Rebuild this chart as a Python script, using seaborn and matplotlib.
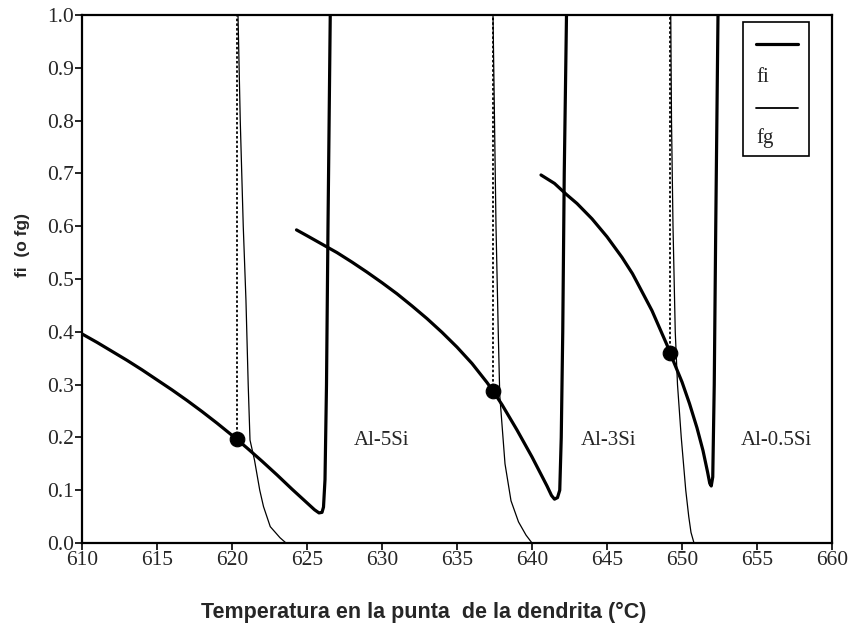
import matplotlib
matplotlib.use("Agg")
import matplotlib.pyplot as plt
from matplotlib import font_manager
from matplotlib.patches import Rectangle
from matplotlib.lines import Line2D
import pandas as pd
import seaborn as sns

# ---- data -------------------------------------------------------------
# fi curves (thick): temperature (°C) and fraction
fi_5si_t = [610, 611, 612, 613, 614, 615, 616, 617, 618, 619, 620, 620.3,
            621, 622, 623, 624, 625, 625.5, 625.8, 626.0, 626.1, 626.2,
            626.3, 626.4, 626.55]
fi_5si_f = [0.396, 0.380, 0.363, 0.346, 0.328, 0.309, 0.290, 0.270, 0.249,
            0.227, 0.204, 0.197, 0.180, 0.155, 0.129, 0.102, 0.076, 0.063,
            0.057, 0.058, 0.068, 0.120, 0.300, 0.600, 1.0]

fi_3si_t = [624.3, 625, 626, 627, 628, 629, 630, 631, 632, 633, 634, 635,
            636, 637, 637.4, 638, 639, 640, 641, 641.3, 641.5, 641.7,
            641.85, 641.95, 642.05, 642.15, 642.3]
fi_3si_f = [0.593, 0.582, 0.566, 0.550, 0.532, 0.513, 0.493, 0.472, 0.449,
            0.425, 0.399, 0.371, 0.340, 0.304, 0.288, 0.262, 0.214, 0.163,
            0.108, 0.090, 0.083, 0.086, 0.100, 0.200, 0.400, 0.700, 1.0]

fi_05si_t = [640.6, 641.5, 642.3, 643, 644, 645, 646, 646.7, 647, 648, 649,
             649.2, 650, 650.5, 651, 651.4, 651.7, 651.85, 651.95, 652.05,
             652.15, 652.25, 652.4]
fi_05si_f = [0.697, 0.681, 0.660, 0.643, 0.614, 0.580, 0.541, 0.510, 0.494,
             0.440, 0.375, 0.360, 0.305, 0.264, 0.218, 0.175, 0.135, 0.113,
             0.108, 0.125, 0.300, 0.600, 1.0]

# fg curves (thin)
fg_5si_t = [620.4, 620.55, 620.75, 620.93, 621.08, 621.2, 621.5, 621.85,
            622.1, 622.55, 623.2, 623.6]
fg_5si_f = [1.0, 0.8, 0.6, 0.46, 0.30, 0.195, 0.157, 0.10, 0.069, 0.031,
            0.010, 0.0]

fg_3si_t = [637.4, 637.5, 637.6, 637.75, 637.85, 638.2, 638.6, 639.1,
            639.6, 640.0]
fg_3si_f = [1.0, 0.8, 0.6, 0.4, 0.28, 0.15, 0.08, 0.04, 0.015, 0.0]

fg_05si_t = [649.25, 649.3, 649.4, 649.55, 649.7, 649.95, 650.25, 650.45,
             650.6, 650.8]
fg_05si_f = [1.0, 0.8, 0.6, 0.4, 0.3, 0.2, 0.1, 0.05, 0.02, 0.0]

# marked points where the dotted lines start
dot_t = [620.3, 637.4, 649.2]
dot_f = [0.197, 0.288, 0.360]

# alloy labels
alloy_names = ["Al-5Si", "Al-3Si", "Al-0.5Si"]
label_t = [630.0, 645.1, 656.3]
label_f = [0.195, 0.195, 0.195]

x_ticks = [610, 615, 620, 625, 630, 635, 640, 645, 650, 655, 660]
y_ticks = [0.0, 0.1, 0.2, 0.3, 0.4, 0.5, 0.6, 0.7, 0.8, 0.9, 1.0]

# ---- style ------------------------------------------------------------
sns.set_theme(style="ticks")
available = {f.name for f in font_manager.fontManager.ttflist}


def pick(*names):
    for n in names:
        if n in available:
            return n
    return "DejaVu Sans"


serif = pick("Liberation Serif", "DejaVu Serif")
narrow = pick("Liberation Sans Narrow", "DejaVu Sans Condensed", "Liberation Sans")
sans = pick("Liberation Sans", "DejaVu Sans")
plt.rcParams["font.family"] = [serif, "DejaVu Serif"]

fig = plt.figure(figsize=(8.49, 6.3), dpi=100)
ax = fig.add_axes([82 / 849, 87 / 630, 750 / 849, 528 / 630])

thick = dict(color="black", linewidth=2.3, sort=False, estimator=None, ax=ax,
             solid_joinstyle="round", solid_capstyle="round")
thin = dict(color="black", linewidth=0.9, sort=False, estimator=None, ax=ax,
            solid_joinstyle="round")

for t, f in [(fi_5si_t, fi_5si_f), (fi_3si_t, fi_3si_f), (fi_05si_t, fi_05si_f)]:
    sns.lineplot(data=pd.DataFrame({"T": t, "f": f}), x="T", y="f", **thick)
for t, f in [(fg_5si_t, fg_5si_f), (fg_3si_t, fg_3si_f), (fg_05si_t, fg_05si_f)]:
    sns.lineplot(data=pd.DataFrame({"T": t, "f": f}), x="T", y="f", **thin)

ax.vlines(dot_t, dot_f, [1.0] * len(dot_t), colors="black",
          linestyles=(0, (1.4, 1.2)), linewidth=1.3)
sns.scatterplot(x=dot_t, y=dot_f, color="black", s=110, edgecolor="black",
                zorder=5, ax=ax)

for name, t, f in zip(alloy_names, label_t, label_f):
    ax.text(t, f, name, ha="center", va="center", fontsize=15,
            family=[serif])

ax.set_xlim(610, 660)
ax.set_ylim(0, 1.0)
ax.set_xticks(x_ticks)
ax.set_yticks(y_ticks)
ax.set_xticklabels([str(v) for v in x_ticks], fontsize=15.5, family=[serif])
ax.set_yticklabels([f"{v:.1f}" for v in y_ticks], fontsize=15.5, family=[serif])
ax.tick_params(direction="out", length=5, width=1.2, pad=1, color="black")
for s in ax.spines.values():
    s.set_visible(True)
    s.set_linewidth(1.6)
    s.set_color("black")

ax.set_xlabel("")
ax.set_ylabel("")
fig.text(424 / 849, 1 - 612 / 630, "Temperatura en la punta  de la dendrita (°C)",
         ha="center", va="center", fontsize=15.5, fontweight="bold",
         family=[narrow, sans])
fig.text(22 / 849, 1 - 245 / 630, "fi  (o fg)", rotation=90, ha="center",
         va="center", fontsize=12.5, fontweight="bold", family=[sans])

# legend box drawn in axes coordinates
ax.add_patch(Rectangle((0.8813, 0.733), 0.088, 0.2537, transform=ax.transAxes,
                       fill=False, edgecolor="black", linewidth=1.2, zorder=6))
ax.add_line(Line2D([0.8987, 0.9547], [0.945, 0.945], transform=ax.transAxes,
                   color="black", linewidth=2.3, zorder=6))
ax.text(0.8987, 0.8807, "fi", transform=ax.transAxes, ha="left", va="center",
        fontsize=15, family=[serif])
ax.add_line(Line2D([0.8987, 0.9547], [0.8239, 0.8239], transform=ax.transAxes,
                   color="black", linewidth=1.3, zorder=6))
ax.text(0.8987, 0.767, "fg", transform=ax.transAxes, ha="left", va="center",
        fontsize=15, family=[serif])

fig.savefig("out.png", dpi=100)
